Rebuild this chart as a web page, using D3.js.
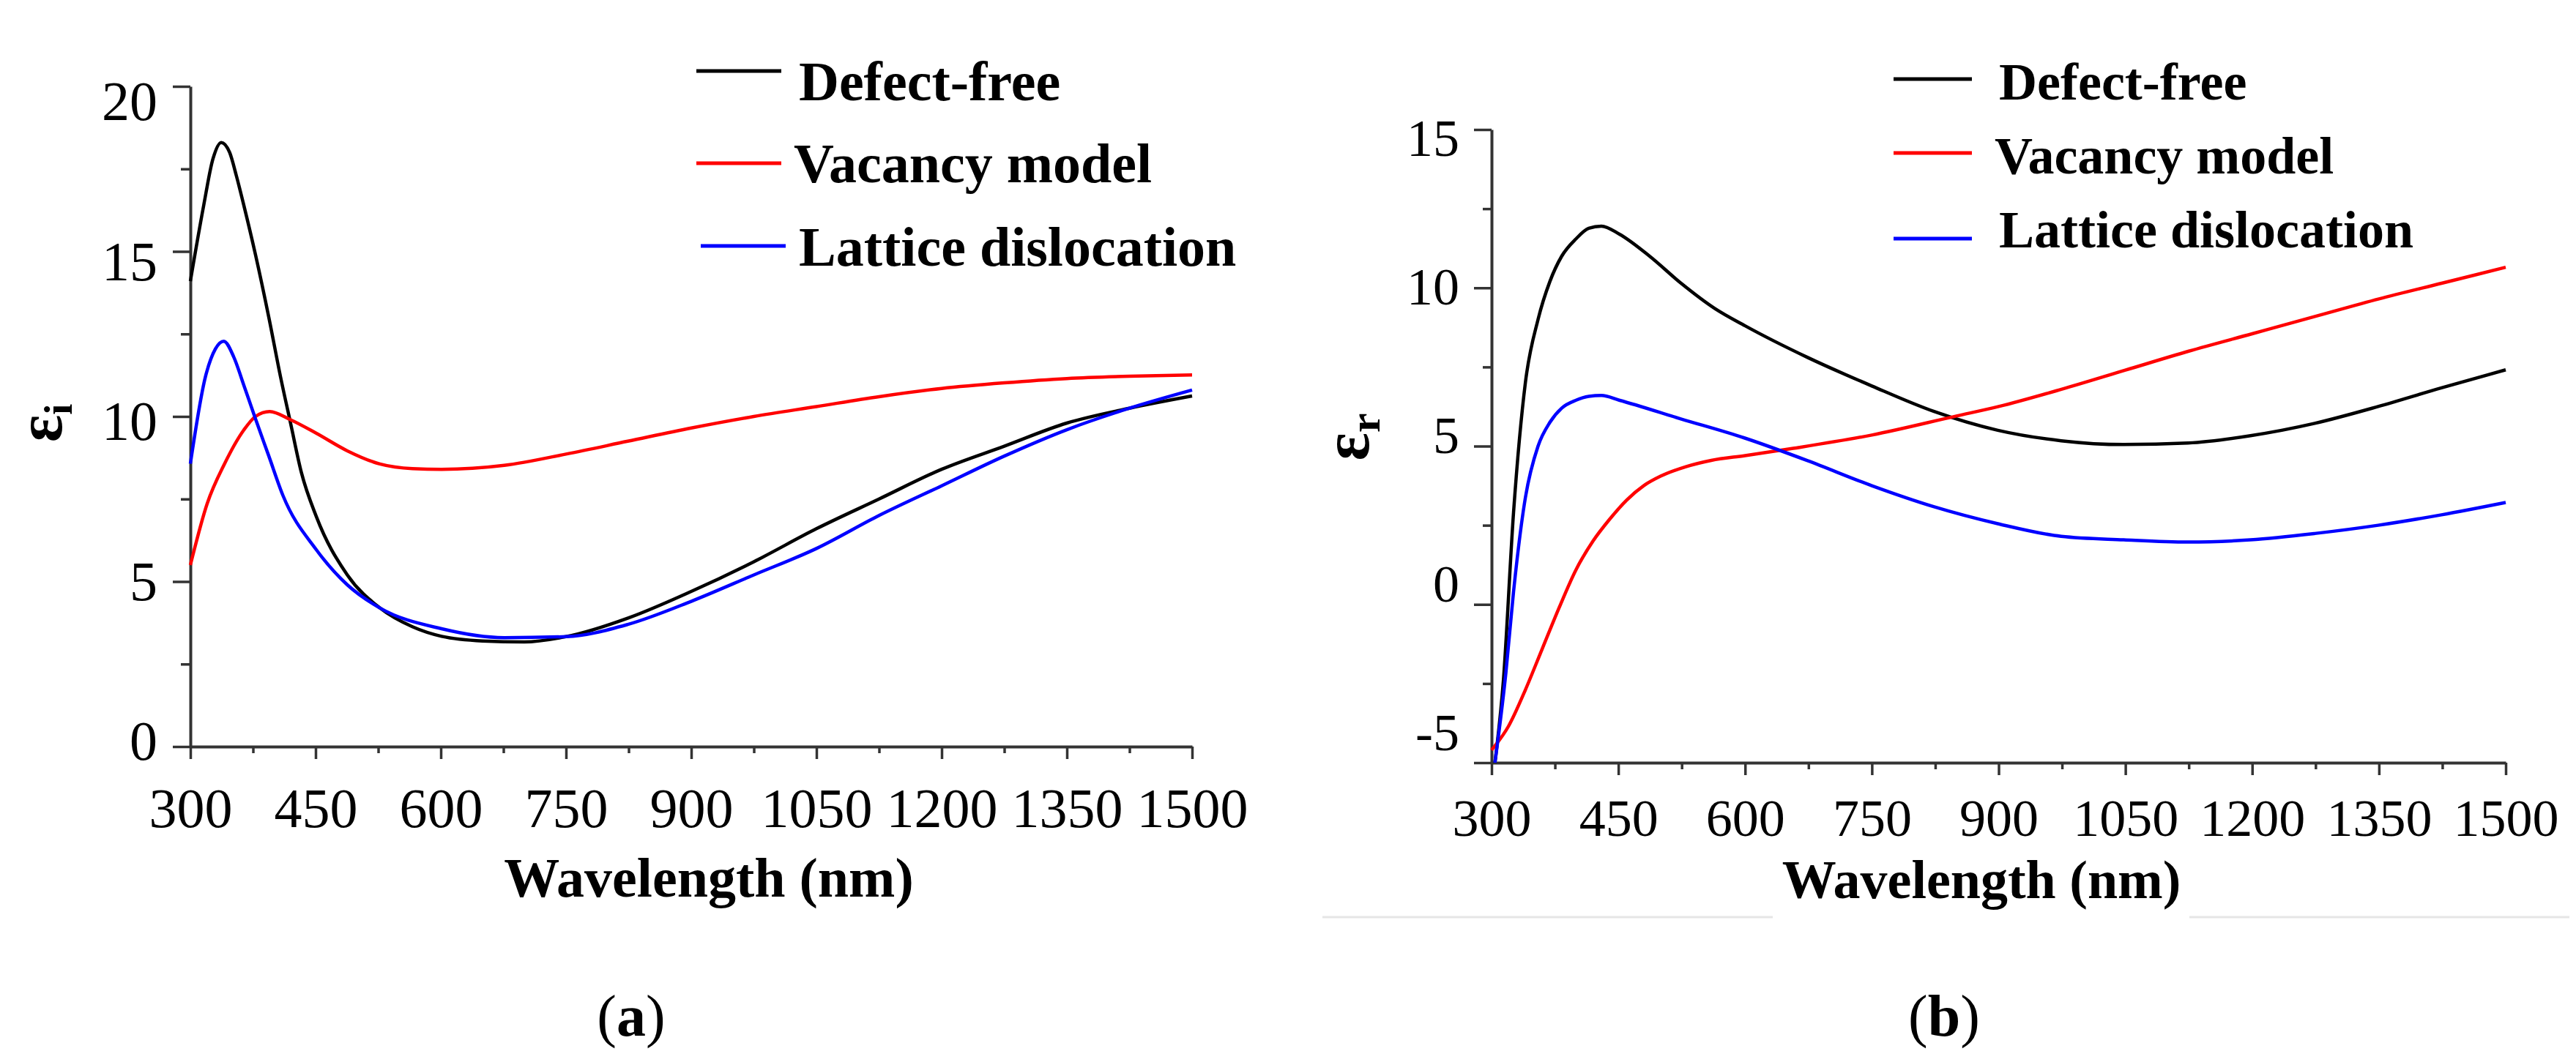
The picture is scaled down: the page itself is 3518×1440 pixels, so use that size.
<!DOCTYPE html>
<html>
<head>
<meta charset="utf-8">
<script src="https://cdn.jsdelivr.net/npm/d3@7"></script>
<style>
  body { margin: 0; background: #fff; }
  svg { display: block; background: #fff; }
  text { font-family: 'Liberation Serif', 'Times New Roman', serif; }
</style>
</head>
<body>
<svg id="chart" width="3518" height="1440"></svg>
<script>
// shared bits
let xTicks = [300, 450, 600, 750, 900, 1050, 1200, 1350, 1500]
let seriesNames = ['Defect-free', 'Vacancy model', 'Lattice dislocation']
let seriesColors = ['#000000', '#ff0000', '#0000ff']

// (a) imaginary part, eps_i
let imagTicks = [0, 5, 10, 15, 20]
let imagDefectWl = [300, 316, 327, 337, 347, 355, 364, 378, 394, 408, 420, 433, 451, 488, 527, 566, 601, 650, 700, 750, 825, 900, 975, 1050, 1125, 1200, 1275, 1350, 1425, 1500]
let imagDefect = [14.1, 16.4, 17.8, 18.3, 18.0, 17.3, 16.4, 14.9, 13.0, 11.2, 9.8, 8.3, 6.96, 5.2, 4.2, 3.63, 3.34, 3.2, 3.17, 3.33, 3.9, 4.7, 5.6, 6.6, 7.5, 8.4, 9.1, 9.8, 10.25, 10.62]
let imagVacancyWl = [300, 320, 341, 364, 378, 395, 420, 451, 488, 527, 566, 601, 676, 750, 824, 900, 975, 1050, 1125, 1200, 1275, 1350, 1425, 1500]
let imagVacancy = [5.5, 7.35, 8.57, 9.59, 10.0, 10.15, 9.9, 9.49, 8.96, 8.56, 8.42, 8.4, 8.52, 8.86, 9.25, 9.65, 10.0, 10.3, 10.6, 10.85, 11.02, 11.15, 11.22, 11.26]
let imagLatticeWl = [300, 318, 330, 340, 352, 364, 377, 394, 411, 451, 488, 527, 601, 676, 750, 824, 900, 975, 1050, 1125, 1200, 1275, 1350, 1425, 1500]
let imagLattice = [8.57, 11.2, 12.05, 12.28, 11.8, 10.95, 10.0, 8.8, 7.6, 5.96, 4.9, 4.2, 3.57, 3.3, 3.33, 3.7, 4.4, 5.2, 6.0, 7.0, 7.9, 8.8, 9.6, 10.25, 10.8]

// (b) real part, eps_r
let realTicks = [-5, 0, 5, 10, 15]
let realDefectWl = [304, 314, 326, 340, 355, 369, 383, 400, 415, 430, 451, 487, 524, 564, 600, 674, 750, 823, 899, 974, 1048, 1124, 1198, 1274, 1349, 1424, 1500]
let realDefect = [-5.0, -2.4, 2.9, 7.0, 9.0, 10.2, 11.0, 11.55, 11.88, 11.95, 11.7, 11.0, 10.15, 9.35, 8.8, 7.8, 6.9, 6.1, 5.5, 5.17, 5.05, 5.1, 5.33, 5.72, 6.25, 6.84, 7.41]
let realVacancyWl = [300, 320, 340, 360, 380, 400, 420, 440, 460, 480, 500, 530, 560, 600, 657, 750, 850, 900, 975, 1050, 1125, 1200, 1275, 1350, 1425, 1500]
let realVacancy = [-4.6, -3.85, -2.7, -1.4, -0.1, 1.1, 2.0, 2.7, 3.3, 3.75, 4.05, 4.35, 4.55, 4.7, 4.93, 5.35, 5.95, 6.25, 6.8, 7.4, 8.0, 8.55, 9.1, 9.65, 10.15, 10.65]
let realLatticeWl = [304, 317, 326, 340, 355, 369, 383, 400, 415, 430, 451, 524, 599, 674, 750, 823, 899, 974, 1048, 1124, 1198, 1274, 1349, 1424, 1500]
let realLattice = [-5.0, -2.15, 0.4, 3.37, 5.0, 5.75, 6.2, 6.45, 6.57, 6.6, 6.45, 5.86, 5.26, 4.54, 3.75, 3.09, 2.55, 2.15, 2.04, 1.97, 2.04, 2.24, 2.5, 2.83, 3.22]

let svg = d3.select('#chart')
let axisColor = '#333'

let drawPanel = (cfg) => {
  let g = svg.append('g')
  let x = d3.scaleLinear().domain([300, 1500]).range(cfg.xRange)
  let y = d3.scaleLinear().domain(cfg.yDomain).range(cfg.yRange)
  let x0 = cfg.xRange[0], yBottom = cfg.yRange[0]

  // minor ticks, halfway between the labelled ones
  let minorX = d3.range(375, 1500, 150)
  let minorY = cfg.yTicks.slice(1).map(t => t - 2.5)

  g.append('g')
    .attr('transform', `translate(0,${yBottom})`)
    .call(d3.axisBottom(x).tickValues(minorX).tickSize(cfg.minorX).tickFormat(''))
    .call(a => a.select('.domain').remove())
  g.append('g')
    .attr('transform', `translate(${x0},0)`)
    .call(d3.axisLeft(y).tickValues(minorY).tickSize(cfg.minorY).tickFormat(''))
    .call(a => a.select('.domain').remove())

  // major x axis, plain numbers (no thousands comma)
  let xa = g.append('g')
    .attr('transform', `translate(0,${yBottom})`)
    .call(d3.axisBottom(x).tickValues(xTicks).tickSize(cfg.majorX).tickSizeOuter(0).tickFormat(d => String(d)))
  xa.selectAll('text')
    .attr('y', cfg.xLabelBase - yBottom)
    .attr('dy', 0)
    .attr('font-size', cfg.fs)
    .attr('font-family', null)

  // major y axis, labels drift a little like in the scan
  let ya = g.append('g')
    .attr('transform', `translate(${x0},0)`)
    .call(d3.axisLeft(y).tickValues(cfg.yTicks).tickSize(cfg.majorY).tickSizeOuter(0).tickFormat(d => String(d)))
  ya.selectAll('text')
    .attr('x', cfg.yLabelRight - x0)
    .attr('y', d => cfg.labelShift(d) + cfg.fs * 0.34)
    .attr('dy', 0)
    .attr('font-size', cfg.fs)
    .attr('font-family', null)

  g.selectAll('.domain').attr('stroke', axisColor).attr('stroke-width', 4)
  g.selectAll('.tick line').attr('stroke', axisColor).attr('stroke-width', 3.5)
  g.selectAll('.tick text').attr('fill', '#000')

  let line = d3.line()
    .x(d => x(d[0]))
    .y(d => y(d[1]))
    .curve(d3.curveMonotoneX)

  cfg.series.forEach((s, i) => {
    g.append('path')
      .datum(d3.zip(s[0], s[1]))
      .attr('d', line)
      .attr('fill', 'none')
      .attr('stroke', seriesColors[i])
      .attr('stroke-width', 4.5)
      .attr('stroke-linejoin', 'round')
  })

  // legend
  seriesNames.forEach((name, i) => {
    let L = cfg.legend[i]
    g.append('line')
      .attr('x1', L.x1).attr('x2', L.x2)
      .attr('y1', L.ly).attr('y2', L.ly)
      .attr('stroke', seriesColors[i])
      .attr('stroke-width', 5)
    g.append('text')
      .attr('x', L.tx).attr('y', L.ty)
      .attr('font-size', cfg.legendFs)
      .attr('font-weight', 'bold')
      .text(name)
  })

  // axis titles
  g.append('text')
    .attr('x', cfg.titleX).attr('y', cfg.titleBase)
    .attr('text-anchor', 'middle')
    .attr('font-size', cfg.titleFs)
    .attr('font-weight', 'bold')
    .text('Wavelength (nm)')

  let lab = g.append('text')
    .attr('transform', `translate(${cfg.epsX},${cfg.epsY}) rotate(-90)`)
    .attr('text-anchor', 'middle')
    .attr('font-weight', 'bold')
  lab.append('tspan').attr('font-size', cfg.epsFs).text('ε')
  lab.append('tspan').attr('font-size', cfg.subFs).attr('dy', cfg.subShift).text(cfg.sub)

  // (a) / (b)
  let cap = g.append('text')
    .attr('x', cfg.capX).attr('y', 1415)
    .attr('text-anchor', 'middle')
    .attr('font-size', 80)
  cap.append('tspan').text('(')
  cap.append('tspan').attr('font-weight', 'bold').text(cfg.cap)
  cap.append('tspan').text(')')
}

drawPanel({
  xRange: [260, 1628], yDomain: [0, 20], yRange: [1020, 118],
  yTicks: imagTicks,
  majorX: 17, minorX: 9, majorY: 24, minorY: 13,
  fs: 76, xLabelBase: 1130, yLabelRight: 215,
  labelShift: v => -8 + v * 1.4,
  series: [[imagDefectWl, imagDefect], [imagVacancyWl, imagVacancy], [imagLatticeWl, imagLattice]],
  legendFs: 76,
  legend: [
    {x1: 951, x2: 1067, ly: 97, tx: 1091, ty: 137},
    {x1: 951, x2: 1067, ly: 223, tx: 1084, ty: 249},
    {x1: 957, x2: 1073, ly: 336, tx: 1091, ty: 363}
  ],
  titleX: 968, titleBase: 1225, titleFs: 76,
  epsX: 84, epsY: 578, epsFs: 88, subFs: 54, subShift: 14, sub: 'i',
  capX: 862, cap: 'a'
})

drawPanel({
  xRange: [2037, 3422], yDomain: [-5, 15], yRange: [1042, 177],
  yTicks: realTicks,
  majorX: 17, minorX: 9, majorY: 24, minorY: 12,
  fs: 72, xLabelBase: 1142, yLabelRight: 1993,
  labelShift: v => -42 + (v + 5) * 2.65,
  series: [[realDefectWl, realDefect], [realVacancyWl, realVacancy], [realLatticeWl, realLattice]],
  legendFs: 72,
  legend: [
    {x1: 2586, x2: 2693, ly: 108, tx: 2730, ty: 136},
    {x1: 2586, x2: 2693, ly: 209, tx: 2724, ty: 237},
    {x1: 2586, x2: 2693, ly: 326, tx: 2730, ty: 338}
  ],
  titleX: 2706, titleBase: 1227, titleFs: 74,
  epsX: 1869, epsY: 597, epsFs: 90, subFs: 60, subShift: 15, sub: 'r',
  capX: 2655, cap: 'b'
})

// faint rule under panel (b), broken under its title
svg.selectAll('line.rule')
  .data([[1806, 2421], [2990, 3509]])
  .join('line')
  .attr('class', 'rule')
  .attr('x1', d => d[0]).attr('x2', d => d[1])
  .attr('y1', 1253).attr('y2', 1253)
  .attr('stroke', '#e6e6e6')
  .attr('stroke-width', 3)
</script>
</body>
</html>
